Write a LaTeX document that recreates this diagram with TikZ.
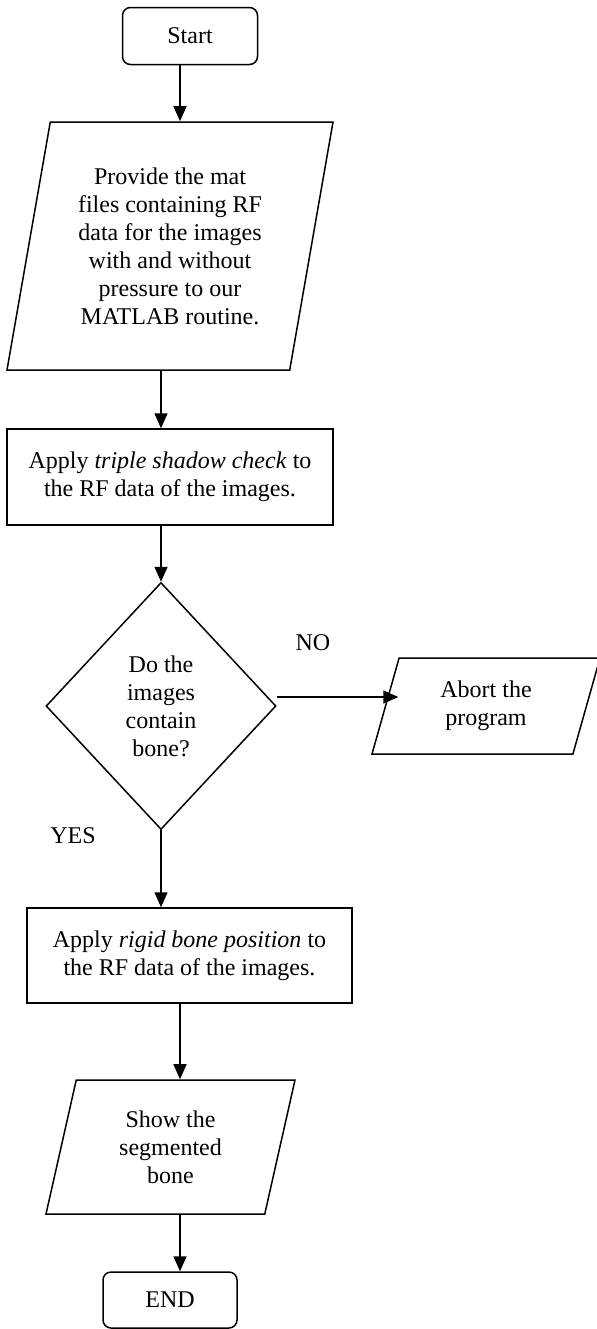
\documentclass[tikz,border=0pt]{standalone}
\usepackage{fontspec}
\setmainfont{Liberation Serif}
\usetikzlibrary{shapes.geometric, arrows.meta}

\begin{document}
\begin{tikzpicture}[x=0.5pt, y=-0.5pt,
    font=\fontsize{12}{14}\selectfont,
    line width=0.75pt,
    arr/.style={-{Triangle[length=7.5pt, width=6.5pt]}},
    term/.style={draw, rounded corners=4pt, minimum width=67.5pt, minimum height=28.5pt, inner sep=0pt},
    proc/.style={draw, minimum width=163pt, minimum height=48pt, align=center, inner sep=0pt},
    io/.style={draw, trapezium, trapezium stretches body, align=center, inner sep=2pt}]
    \useasboundingbox (0,0) rectangle (597,1329);

    % Start and input
    \node[term] (start) at (190,36) {Start};
    \node[io, trapezium left angle=75.3, trapezium right angle=104.7,
        minimum width=163pt, minimum height=124pt] (input) at (170,246)
        {Provide the mat\\ files containing RF\\ data for the images\\ with and without\\ pressure to our\\ MATLAB routine.};

    % Shadow check and decision
    \node[proc] (shadow) at (170,477) {Apply \textit{triple shadow check} to\\ the RF data of the images.};
    \node[draw, diamond, minimum width=115pt, minimum height=123.5pt, inner sep=0pt, align=center] (bone) at (161,706)
        {Do the\\ images\\ contain\\ bone?};
    \node[io, trapezium left angle=64.9, trapezium right angle=115.1,
        minimum width=114pt, minimum height=48pt] (abort) at (486,706) {Abort the\\ program};
    \node (no) at (313,643) {NO};
    \node (yes) at (73,836) {YES};

    % Bone position and output
    \node[proc, minimum width=162.5pt, minimum height=47.5pt] (rigid) at (189.5,955.5)
        {Apply \textit{rigid bone position} to\\ the RF data of the images.};
    \node[io, trapezium left angle=69.5, trapezium right angle=110.5,
        minimum width=124.5pt, minimum height=67pt] (show) at (170.5,1147) {Show the\\ segmented\\ bone};
    \node[term, minimum width=67pt, minimum height=28pt] (end) at (170,1300) {END};

    % Arrows
    \draw[arr] ([xshift=-5pt]start.south) -- ([xshift=-5pt]start.south |- input.north);
    \draw[arr] ([xshift=-4.5pt]input.south) -- ([xshift=-4.5pt]input.south |- shadow.north);
    \draw[arr] ([xshift=-4.5pt]shadow.south) -- (bone.north);
    \draw[arr] (bone.south) -- (bone.south |- rigid.north);
    \draw[arr] ([xshift=-4.75pt]rigid.south) -- ([xshift=-4.75pt]rigid.south |- show.north);
    \draw[arr] ([xshift=4.75pt]show.south) -- ([xshift=4.75pt]show.south |- end.north);
    \draw[arr] ([yshift=4.5pt]bone.east) -- ([xshift=6.75pt, yshift=4.5pt]abort.left side);
\end{tikzpicture}
\end{document}
